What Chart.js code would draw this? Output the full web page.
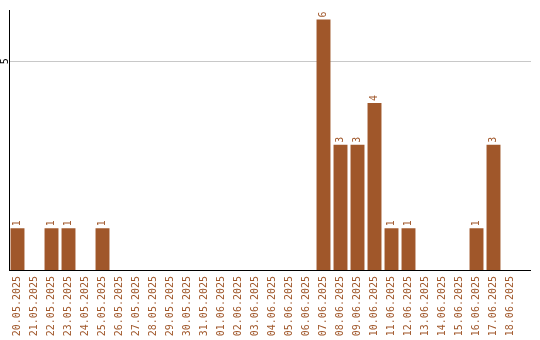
<!DOCTYPE html>
<html>
<head>
<meta charset="utf-8">
<script src="https://cdn.jsdelivr.net/npm/chart.js@4/dist/chart.umd.min.js"></script>
<style>
  html,body{margin:0;padding:0;background:#fff;}
  #wrap{width:540px;height:340px;}
</style>
</head>
<body>
<div id="wrap"><canvas id="c" width="540" height="340"></canvas></div>
<script>
const DATES = ['20.05.2025','21.05.2025','22.05.2025','23.05.2025','24.05.2025','25.05.2025',
  '26.05.2025','27.05.2025','28.05.2025','29.05.2025','30.05.2025','31.05.2025',
  '01.06.2025','02.06.2025','03.06.2025','04.06.2025','05.06.2025','06.06.2025',
  '07.06.2025','08.06.2025','09.06.2025','10.06.2025','11.06.2025','12.06.2025',
  '13.06.2025','14.06.2025','15.06.2025','16.06.2025','17.06.2025','18.06.2025'];
const COUNTS = [1,0,1,1,0,1, 0,0,0,0,0,0, 0,0,0,0,0,0, 6,3,3,4,1,1, 0,0,0,1,3,0];
const Y_TICKS = [5];

const BAR = '#a0572a';
const FONT = '10px "DejaVu Sans Mono", monospace';
const AXIS_TAIL = 12; // axis + grid run a little past the last category

// same pixel snapping Chart.js uses for 1px lines
const snap = p => Math.round(p - 0.5) + 0.5;

// value labels above bars + rotated y tick label + axis tail
const labelsPlugin = {
  id: 'labels',
  afterDatasetsDraw(chart) {
    const ctx = chart.ctx;
    const area = chart.chartArea;
    const ys = chart.scales.y;
    ctx.save();
    ctx.lineWidth = 1;
    ctx.strokeStyle = '#c8c8c8';
    Y_TICKS.forEach(v => {
      const py = snap(ys.getPixelForValue(v));
      ctx.beginPath(); ctx.moveTo(area.right, py); ctx.lineTo(area.right + AXIS_TAIL, py); ctx.stroke();
    });
    ctx.strokeStyle = '#000';
    const by = snap(area.bottom);
    ctx.beginPath(); ctx.moveTo(area.right, by); ctx.lineTo(area.right + AXIS_TAIL, by); ctx.stroke();

    const meta = chart.getDatasetMeta(0);
    ctx.font = FONT;
    ctx.fillStyle = BAR;
    ctx.textAlign = 'left';
    ctx.textBaseline = 'middle';
    meta.data.forEach((bar, i) => {
      if (!COUNTS[i]) return;
      ctx.save();
      ctx.translate(bar.x, bar.y - 2);
      ctx.rotate(-Math.PI / 2);
      ctx.fillText(String(COUNTS[i]), 0, 0);
      ctx.restore();
    });
    ctx.fillStyle = '#000';
    ctx.textAlign = 'center';
    Y_TICKS.forEach(v => {
      ctx.save();
      ctx.translate(5, ys.getPixelForValue(v));
      ctx.rotate(-Math.PI / 2);
      ctx.fillText(String(v), 0, 0);
      ctx.restore();
    });
    ctx.restore();
  }
};

new Chart(document.getElementById('c'), {
  type: 'bar',
  data: {
    labels: DATES,
    datasets: [{ data: COUNTS, backgroundColor: BAR, borderWidth: 0,
      categoryPercentage: 1, barPercentage: 0.82 }]
  },
  options: {
    responsive: false, animation: false,
    layout: { padding: { top: 10, right: 21, left: 0, bottom: 0 } },
    plugins: { legend: { display: false }, tooltip: { enabled: false } },
    scales: {
      x: {
        grid: { display: false, drawTicks: false },
        border: { color: '#000', width: 1 },
        ticks: { font: { family: '"DejaVu Sans Mono", monospace', size: 10 }, color: BAR,
          minRotation: 90, maxRotation: 90, autoSkip: false, padding: 6 },
        afterFit: s => { s.height = 70; }
      },
      y: {
        min: 0, max: 6.23,
        afterBuildTicks: s => { s.ticks = Y_TICKS.map(v => ({ value: v })); },
        grid: { color: '#c8c8c8', drawTicks: false },
        border: { color: '#000', width: 1 },
        ticks: { display: false },
        afterFit: s => { s.width = 9; }
      }
    }
  },
  plugins: [labelsPlugin]
});
</script>
</body>
</html>
